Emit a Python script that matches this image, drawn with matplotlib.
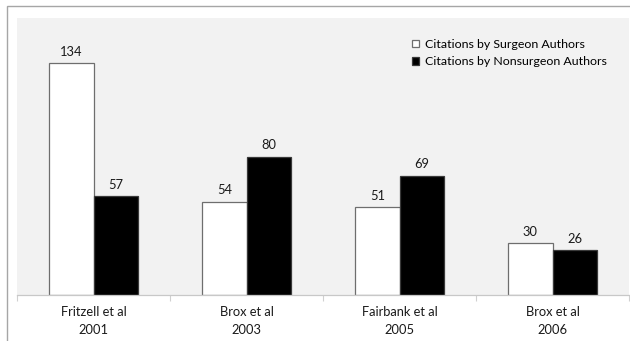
import matplotlib
matplotlib.use("Agg")
import matplotlib.pyplot as plt
from matplotlib.patches import Rectangle
import numpy as np

# Data
studies = ["Fritzell et al\n2001", "Brox et al\n2003", "Fairbank et al\n2005", "Brox et al\n2006"]
surgeon = [134, 54, 51, 30]
nonsurgeon = [57, 80, 69, 26]
series_names = ["Citations by Surgeon Authors", "Citations by Nonsurgeon Authors"]

plt.rcParams['font.family'] = ['Lato', 'DejaVu Sans']

W, H = 630, 341
fig = plt.figure(figsize=(W / 100, H / 100), dpi=100)

# outer chart border (runs off right and bottom edges)
fig.patches.append(Rectangle((7 / W, -0.1), 1.2, 1 - 6 / H + 0.1, transform=fig.transFigure,
                             fill=False, edgecolor="#a6a6a6", linewidth=1))

# plot area
ax = fig.add_axes([17 / W, 1 - 295 / H, 612 / W, (295 - 18) / H])
ax.set_facecolor("#f2f2f2")

x = np.arange(len(studies))
w = 0.29
b1 = ax.bar(x - w / 2, surgeon, w, color="white", edgecolor="#6e6e6e", linewidth=0.9,
            label=series_names[0])
b2 = ax.bar(x + w / 2, nonsurgeon, w, color="black", edgecolor="#3a3a3a", linewidth=0.9,
            label=series_names[1])

for bars, vals in [(b1, surgeon), (b2, nonsurgeon)]:
    for r, v in zip(bars, vals):
        ax.text(r.get_x() + r.get_width() / 2, v + 3, str(v), ha="center", va="bottom",
                fontsize=9.3, color="#1a1a1a")

ax.set_xlim(-0.5, len(studies) - 0.5)
ax.set_ylim(0, 160)
ax.set_yticks([])

# category labels and separator ticks
ax.set_xticks(np.arange(-0.5, len(studies), 1.0))
ax.set_xticklabels([])
ax.set_xticks(x, minor=True)
ax.set_xticklabels(studies, minor=True, fontsize=9.3, color="#1a1a1a", linespacing=1.6)
ax.tick_params(axis="x", which="major", length=4, color="#d0d0d0", width=0.8)
ax.tick_params(axis="x", which="minor", length=0, pad=8)

for s in ["top", "right", "left"]:
    ax.spines[s].set_visible(False)
ax.spines["bottom"].set_color("#c8c8c8")
ax.spines["bottom"].set_linewidth(0.9)

leg = ax.legend(loc="upper left", bbox_to_anchor=(0.627, 0.965), frameon=False, fontsize=8.9,
                handlelength=0.6, handleheight=0.6, handletextpad=0.45, labelspacing=0.5)

fig.savefig("out.png", dpi=100)
